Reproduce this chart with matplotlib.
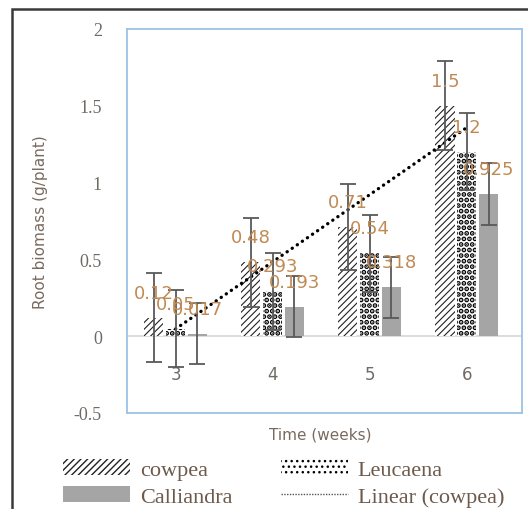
import numpy as np
import matplotlib
matplotlib.use("Agg")
import matplotlib.pyplot as plt
from matplotlib.patches import Rectangle
from matplotlib.lines import Line2D

# data
weeks = ["3", "4", "5", "6"]
cowpea = [0.12, 0.48, 0.71, 1.5]
leucaena = [0.05, 0.293, 0.54, 1.2]
calliandra = [0.017, 0.193, 0.318, 0.925]
cowpea_err = [0.29, 0.29, 0.28, 0.29]
leucaena_err = [0.25, 0.25, 0.25, 0.25]
calliandra_err = [0.2, 0.2, 0.2, 0.2]
cowpea_lbl = ["0.12", "0.48", "0.71", "1.5"]
leucaena_lbl = ["0.05", "0.293", "0.54", "1.2"]
calliandra_lbl = ["0.017", "0.193", "0.318", "0.925"]
yticks = [-0.5, 0, 0.5, 1, 1.5, 2]
ytick_labels = ["-0.5", "0", "0.5", "1", "1.5", "2"]

plt.rcParams['axes.unicode_minus'] = False
plt.rcParams['hatch.linewidth'] = 1.0

W, H = 528, 510
fig = plt.figure(figsize=(W / 100, H / 100), dpi=100)

def px(x0, y0, x1, y1):
    return [x0 / W, 1 - y1 / H, (x1 - x0) / W, (y1 - y0) / H]

ax = fig.add_axes(px(127, 30, 522, 414))
ax.set_xlim(-0.5, 3.57)
ax.set_ylim(-0.5, 2)

x = np.arange(len(weeks))
bw = 0.2
off = 0.225

ax.axhline(0, color='#d9d9d9', lw=1.3, zorder=1)

b1 = ax.bar(x - off, cowpea, bw, color='white', edgecolor='#222222', linewidth=0,
            hatch='/////', zorder=2, label='cowpea')
b2 = ax.bar(x, leucaena, bw, color='white', edgecolor='black', linewidth=0,
            hatch='...', zorder=2, label='Leucaena')
b3 = ax.bar(x + off, calliandra, bw, color='#a5a5a5', linewidth=0, zorder=2,
            label='Calliandra')
for p in b1.patches:
    if hasattr(p, 'set_hatch_linewidth'):
        p.set_hatch_linewidth(0.8)
for p in b2.patches:
    if hasattr(p, 'set_hatch_linewidth'):
        p.set_hatch_linewidth(2.5)

ek = dict(fmt='none', ecolor='#595959', elinewidth=1.3, capsize=5.5, capthick=1.3, zorder=4)
ax.errorbar(x - off, cowpea, yerr=cowpea_err, **ek)
ax.errorbar(x, leucaena, yerr=leucaena_err, **ek)
ax.errorbar(x + off, calliandra, yerr=calliandra_err, **ek)

# linear trend on cowpea
coef = np.polyfit(x, cowpea, 1)
tx = np.array([x[0], x[-1]])
ax.plot(tx, np.polyval(coef, tx), color='black', lw=2.4, linestyle=(0, (0.05, 1.8)),
        dash_capstyle='round', zorder=3)

lblc = '#c08a55'
for xs, vals, lbls in [(x - off, cowpea, cowpea_lbl), (x, leucaena, leucaena_lbl),
                       (x + off, calliandra, calliandra_lbl)]:
    for xi, v, t in zip(xs, vals, lbls):
        ax.annotate(t, (xi, v), xytext=(0, 18), textcoords='offset points',
                    ha='center', va='center', fontsize=13, color=lblc, zorder=5)

for xi, w in zip(x, weeks):
    ax.annotate(w, (xi, 0), xytext=(0, -27), textcoords='offset points',
                ha='center', va='center', fontsize=12, color='#6f6a66')

ax.set_xticks([])
ax.set_yticks(yticks)
ax.set_yticklabels(ytick_labels, family='Liberation Serif', fontsize=13, color='#6f6a66')
ax.tick_params(axis='y', length=0, pad=18)
for s in ax.spines.values():
    s.set_color('#9dc3e6')
    s.set_linewidth(1.3)

ax.set_ylabel("Root biomass (g/plant)", fontsize=11, color='#7a6a5e')
ax.yaxis.set_label_coords((48 - 127) / 395, 0.5)
fig.text(320 / W, 1 - 435 / H, "Time (weeks)", ha='center', va='center',
         fontsize=11, color='#7a6a5e')

trend_h = Line2D([], [], color='#555555', lw=1, linestyle=(0, (1, 1)))
fig.legend([b1, b3, b2, trend_h], ['cowpea', 'Calliandra', 'Leucaena', 'Linear (cowpea)'],
           ncol=2, loc='upper left', bbox_to_anchor=(63 / W, 1 - 460 / H),
           frameon=False, borderpad=0, borderaxespad=0, handlelength=3.0,
           handletextpad=0.45, columnspacing=2.2, labelspacing=0.3,
           prop={'family': 'Liberation Serif', 'size': 16}, labelcolor='#6d5a4c')

fig.add_artist(Rectangle((12 / W, -0.2), 1.2, 1.2 - 10 / H, transform=fig.transFigure,
                         fill=False, edgecolor='#3a3a3a', linewidth=1.8))

fig.savefig('out.png', dpi=100)
